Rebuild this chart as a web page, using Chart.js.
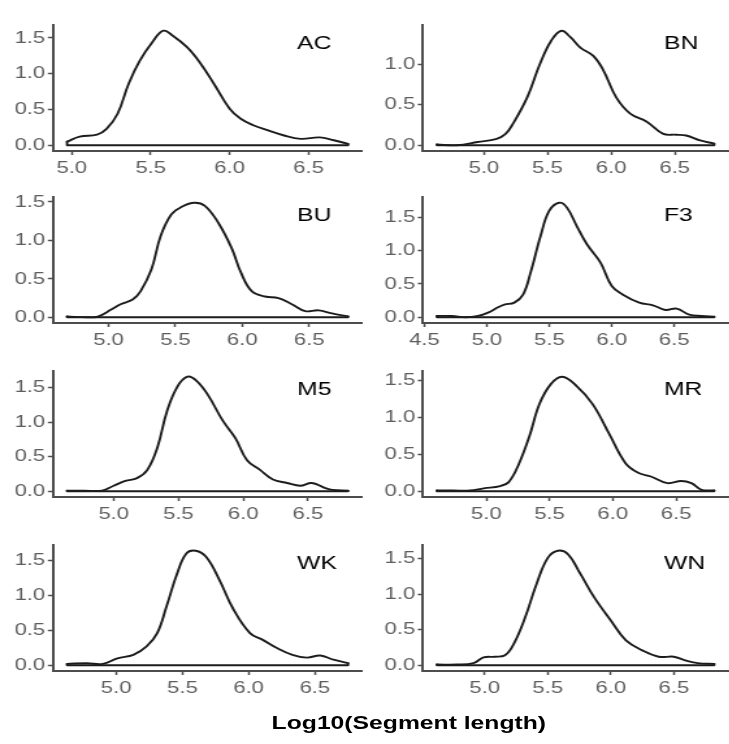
<!DOCTYPE html>
<html>
<head>
<meta charset="utf-8">
<script src="https://cdn.jsdelivr.net/npm/chart.js@4/dist/chart.umd.min.js"></script>
<style>
  html, body { margin: 0; padding: 0; background: #fff; width: 729px; height: 744px; overflow: hidden; }
  #wrap { position: absolute; left: 0; top: 0; width: 561px; height: 744px; transform: scaleX(1.3); transform-origin: 0 0; }
  #wrap canvas { position: absolute; }
  #xtitle { position: absolute; left: 0; top: 713px; width: 629px; text-align: center;
            font: bold 19px "Liberation Sans", Arial, sans-serif; line-height: 20px; color: #000; white-space: nowrap; }
</style>
</head>
<body>
<div id="wrap">
  <div id="xtitle">Log10(Segment length)</div>
</div>
<script>
// Density of log10 segment length, one panel per group
const groups = ['AC', 'BN', 'BU', 'F3', 'M5', 'MR', 'WK', 'WN'];

const acX = [4.97, 5.05, 5.16, 5.22, 5.29, 5.36, 5.43, 5.51, 5.58, 5.64, 5.73, 5.81, 5.90, 6.00, 6.07, 6.15, 6.24, 6.34, 6.45, 6.57, 6.66, 6.75];
const acY = [0.05, 0.12, 0.15, 0.23, 0.44, 0.86, 1.18, 1.44, 1.60, 1.53, 1.37, 1.16, 0.86, 0.51, 0.37, 0.28, 0.21, 0.14, 0.09, 0.11, 0.07, 0.02];

const bnX = [4.63, 4.79, 4.95, 5.10, 5.17, 5.23, 5.34, 5.44, 5.53, 5.61, 5.68, 5.76, 5.86, 5.94, 6.04, 6.15, 6.28, 6.41, 6.51, 6.59, 6.70, 6.81];
const bnY = [0.01, 0.00, 0.04, 0.08, 0.14, 0.27, 0.59, 1.00, 1.29, 1.41, 1.33, 1.20, 1.10, 0.92, 0.59, 0.39, 0.29, 0.14, 0.13, 0.12, 0.06, 0.02];

const buX = [4.69, 4.84, 4.92, 5.02, 5.09, 5.18, 5.24, 5.32, 5.39, 5.47, 5.55, 5.64, 5.72, 5.82, 5.92, 5.99, 6.07, 6.17, 6.27, 6.37, 6.47, 6.57, 6.67, 6.79];
const buY = [0.01, 0.00, 0.01, 0.10, 0.17, 0.23, 0.34, 0.62, 1.06, 1.34, 1.44, 1.49, 1.45, 1.23, 0.90, 0.58, 0.34, 0.27, 0.25, 0.17, 0.08, 0.09, 0.05, 0.01];

const f3X = [4.60, 4.72, 4.83, 4.93, 5.01, 5.09, 5.14, 5.22, 5.29, 5.35, 5.43, 5.50, 5.58, 5.64, 5.72, 5.80, 5.91, 6.00, 6.09, 6.22, 6.33, 6.43, 6.52, 6.62, 6.72, 6.82];
const f3Y = [0.02, 0.02, 0.00, 0.02, 0.07, 0.15, 0.19, 0.22, 0.34, 0.67, 1.22, 1.60, 1.72, 1.65, 1.37, 1.10, 0.82, 0.47, 0.34, 0.22, 0.18, 0.11, 0.13, 0.04, 0.02, 0.01];

const m5X = [4.64, 4.77, 4.91, 5.00, 5.09, 5.18, 5.26, 5.34, 5.41, 5.49, 5.57, 5.64, 5.73, 5.84, 5.94, 6.03, 6.13, 6.23, 6.34, 6.44, 6.53, 6.63, 6.69, 6.81];
const m5Y = [0.01, 0.01, 0.01, 0.08, 0.15, 0.19, 0.31, 0.65, 1.15, 1.51, 1.66, 1.60, 1.39, 1.03, 0.77, 0.45, 0.31, 0.17, 0.12, 0.08, 0.12, 0.05, 0.02, 0.01];

const mrX = [4.61, 4.74, 4.87, 4.98, 5.11, 5.18, 5.26, 5.34, 5.42, 5.51, 5.60, 5.71, 5.84, 5.97, 6.10, 6.20, 6.30, 6.43, 6.54, 6.62, 6.70, 6.80];
const mrY = [0.01, 0.01, 0.01, 0.04, 0.07, 0.13, 0.38, 0.74, 1.18, 1.45, 1.55, 1.43, 1.18, 0.78, 0.38, 0.25, 0.20, 0.11, 0.14, 0.11, 0.02, 0.01];

const wkX = [4.63, 4.78, 4.90, 5.01, 5.13, 5.23, 5.31, 5.38, 5.46, 5.53, 5.60, 5.68, 5.78, 5.88, 6.01, 6.11, 6.21, 6.33, 6.44, 6.54, 6.64, 6.75];
const wkY = [0.02, 0.03, 0.02, 0.10, 0.15, 0.27, 0.46, 0.84, 1.31, 1.60, 1.64, 1.55, 1.22, 0.82, 0.46, 0.36, 0.25, 0.15, 0.11, 0.14, 0.08, 0.03];

const wnX = [4.62, 4.78, 4.91, 4.99, 5.08, 5.16, 5.23, 5.32, 5.41, 5.50, 5.58, 5.66, 5.76, 5.87, 6.00, 6.12, 6.25, 6.38, 6.50, 6.59, 6.69, 6.82];
const wnY = [0.01, 0.01, 0.03, 0.11, 0.12, 0.14, 0.30, 0.67, 1.14, 1.51, 1.61, 1.56, 1.28, 0.95, 0.63, 0.35, 0.21, 0.12, 0.12, 0.07, 0.03, 0.02];

const xTickValues = [4.5, 5.0, 5.5, 6.0, 6.5];
const yTickValues = [0.0, 0.5, 1.0, 1.5];

const seriesX = [acX, bnX, buX, f3X, m5X, mrX, wkX, wnX];
const seriesY = [acY, bnY, buY, f3Y, m5Y, mrY, wkY, wnY];

Chart.defaults.font.family = '"Liberation Sans", Arial, sans-serif';
Chart.defaults.animation = false;

const AXIS = '#4d4d4d';
const TICKTEXT = '#5e5e5e';
const LINE = '#1c1c1c';

const rowTops = [1, 173, 347, 521];

const panelLabel = {
  id: 'panelLabel',
  afterDraw(chart, args, opts) {
    const a = chart.chartArea, ctx = chart.ctx;
    ctx.save();
    ctx.font = '19px "Liberation Sans", Arial, sans-serif';
    ctx.fillStyle = '#000';
    ctx.textBaseline = 'middle';
    ctx.textAlign = 'left';
    ctx.fillText(opts.text, a.left + (a.right - a.left) * 0.79, a.top + 19);
    ctx.restore();
  }
};

function pickTicks(values) {
  return function (s) {
    s.ticks = values.filter(v => v >= s.min - 1e-9 && v <= s.max + 1e-9).map(v => ({ value: v }));
  };
}

const wrap = document.getElementById('wrap');

groups.forEach((name, i) => {
  const xs = seriesX[i], ys = seriesY[i];
  const col = i % 2, row = Math.floor(i / 2);
  const W = col === 0 ? 280 : 281, H = 173;
  const canvas = document.createElement('canvas');
  canvas.width = W; canvas.height = H;
  canvas.style.width = W + 'px'; canvas.style.height = H + 'px';
  canvas.style.left = (col === 0 ? 0 : 280) + 'px';
  canvas.style.top = rowTops[row] + 'px';
  wrap.appendChild(canvas);

  const x0 = xs[0], x1 = xs[xs.length - 1];
  const xr = x1 - x0;
  const peak = Math.max(...ys);
  const curve = xs.map((x, k) => ({ x: x, y: ys[k] }));
  const base = [
    { x: x0, y: ys[0] }, { x: x0, y: 0 },
    { x: x1, y: 0 }, { x: x1, y: ys[ys.length - 1] }
  ];

  new Chart(canvas, {
    type: 'line',
    data: {
      datasets: [
        { data: curve, borderColor: LINE, borderWidth: 1.9, pointRadius: 0,
          tension: 0.4, fill: false, borderCapStyle: 'round', borderJoinStyle: 'round' },
        { data: base, borderColor: LINE, borderWidth: 1.9, pointRadius: 0, tension: 0,
          fill: false, borderCapStyle: 'round', borderJoinStyle: 'round' }
      ]
    },
    options: {
      responsive: false,
      devicePixelRatio: 1,
      layout: { padding: { top: 24, right: col === 0 ? 1.5 : 1, bottom: 0, left: 0 } },
      plugins: {
        legend: { display: false },
        tooltip: { enabled: false },
        title: { display: false },
        panelLabel: { text: name }
      },
      scales: {
        x: {
          type: 'linear',
          min: x0 - 0.05 * xr,
          max: x1 + 0.05 * xr,
          afterBuildTicks: pickTicks(xTickValues),
          afterFit: s => { s.height = 23; },
          ticks: { callback: v => Number(v).toFixed(1), color: TICKTEXT, font: { size: 17 },
                   padding: 3, maxRotation: 0, autoSkip: false },
          grid: { display: true, drawOnChartArea: false, tickLength: 4, tickColor: AXIS, tickWidth: 1.5 },
          border: { display: true, color: AXIS, width: 2 }
        },
        y: {
          type: 'linear',
          min: -0.05 * peak,
          max: 1.05 * peak,
          afterBuildTicks: pickTicks(yTickValues),
          afterFit: s => { s.width = col === 0 ? 40.8 : 45.4; },
          ticks: { callback: v => Number(v).toFixed(1), color: TICKTEXT, font: { size: 17 },
                   padding: 2, autoSkip: false },
          grid: { display: true, drawOnChartArea: false, tickLength: 4, tickColor: AXIS, tickWidth: 1.5 },
          border: { display: true, color: AXIS, width: 2 }
        }
      }
    },
    plugins: [panelLabel]
  });
});
</script>
</body>
</html>
